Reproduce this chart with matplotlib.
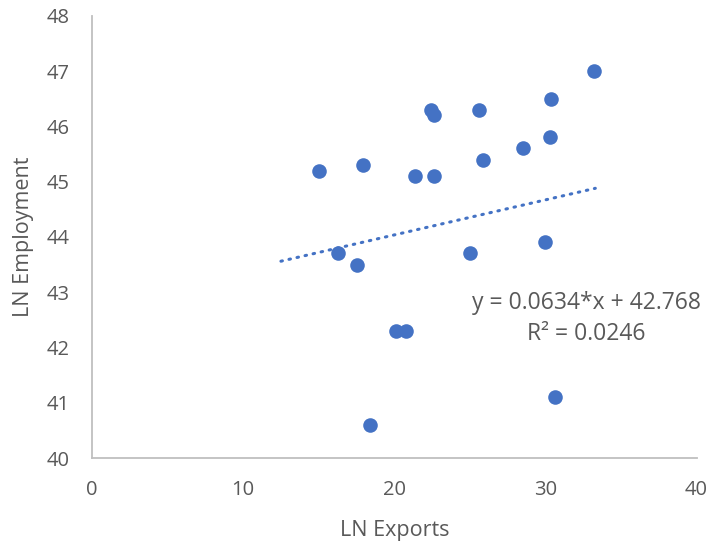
import matplotlib
matplotlib.use("Agg")
import matplotlib.pyplot as plt
import numpy as np

plt.rcParams['font.family'] = ['Open Sans', 'DejaVu Sans']

# data
exports = [15.0, 17.9, 16.3, 17.5, 18.4, 20.1, 20.8, 21.4, 22.4, 22.6,
           22.6, 25.0, 25.6, 25.9, 28.5, 30.0, 30.3, 30.4, 30.6, 33.2]
employment = [45.2, 45.3, 43.7, 43.5, 40.6, 42.3, 42.3, 45.1, 46.3, 46.2,
              45.1, 43.7, 46.3, 45.4, 45.6, 43.9, 45.8, 46.5, 41.1, 47.0]

slope, intercept = 0.0634, 42.768
r2 = 0.0246
trend_x = [12.5, 33.3]

blue = '#4472C4'
grey = '#595959'

fig = plt.figure(figsize=(7.13, 5.44), dpi=100)
ax = fig.add_axes([0.129, 0.158, 0.848, 0.813])

ax.scatter(exports, employment, s=110, color=blue, zorder=3, linewidths=0)
tx = np.array(trend_x)
ax.plot(tx, slope * tx + intercept, color=blue, lw=2.2, linestyle=(0, (0.5, 2.2)),
        dash_capstyle='round', zorder=2)

ax.text(32.7, 42.53, f"y = {slope}*x + {intercept}\nR² = {r2}", ha='center', va='center',
        fontsize=16.5, color=grey, linespacing=1.4)

ax.set_xlim(0, 40)
ax.set_ylim(40, 48)
ax.set_xticks(range(0, 41, 10))
ax.set_yticks(range(40, 49))

for s in ['top', 'right']:
    ax.spines[s].set_visible(False)
for s in ['left', 'bottom']:
    ax.spines[s].set_color('#BFBFBF')
    ax.spines[s].set_linewidth(1.3)

ax.tick_params(length=0, labelsize=14.5, colors=grey)
ax.tick_params(axis='x', pad=16)
ax.tick_params(axis='y', pad=16)
ax.set_xlabel("LN Exports", fontsize=15.5, color=grey, labelpad=14)
ax.set_ylabel("LN Employment", fontsize=15.5, color=grey, labelpad=9)

fig.savefig("out.png", dpi=100)
